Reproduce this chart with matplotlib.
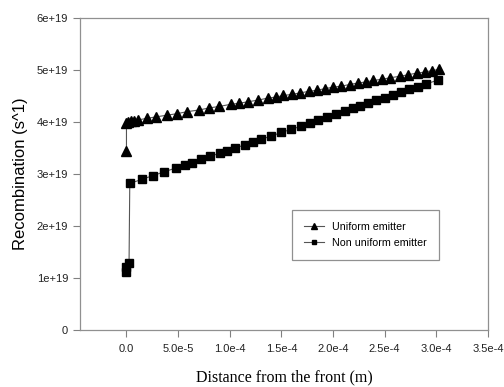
import matplotlib
matplotlib.use('Agg')
import matplotlib.pyplot as plt

# Distance from the front, in units of 1e-5 m
x_uniform = [0, 0, 0.15, 0.4, 0.7, 1.1, 2.0, 2.9, 3.9, 4.9, 5.9, 7.0, 8.0, 9.0,
             10.1, 10.9, 11.8, 12.7, 13.7, 14.5, 15.2, 16.0, 16.8, 17.7, 18.4,
             19.2, 20.0, 20.8, 21.6, 22.4, 23.2, 23.9, 24.7, 25.5, 26.5, 27.3,
             28.1, 28.9, 29.6, 30.3]
# Recombination, in units of 1e19 s^-1
y_uniform = [3.45, 3.99, 4.00, 4.01, 4.02, 4.04, 4.07, 4.10, 4.13, 4.16, 4.20,
             4.23, 4.27, 4.30, 4.34, 4.36, 4.39, 4.42, 4.46, 4.48, 4.51, 4.53,
             4.56, 4.59, 4.61, 4.64, 4.67, 4.69, 4.72, 4.75, 4.77, 4.80, 4.82,
             4.85, 4.88, 4.91, 4.94, 4.96, 4.99, 5.01]

x_nonuniform = [0, 0, 0.25, 0.32, 1.55, 2.57, 3.64, 4.84, 5.64, 6.39, 7.26, 8.13,
                9.03, 9.74, 10.55, 11.45, 12.25, 13.07, 14.04, 15.0, 15.97,
                16.94, 17.74, 18.55, 19.42, 20.33, 21.13, 21.94, 22.58, 23.39,
                24.2, 25.0, 25.8, 26.6, 27.4, 28.2, 29.0, 30.2]
y_nonuniform = [1.12, 1.22, 1.28, 2.82, 2.90, 2.97, 3.04, 3.12, 3.17, 3.22, 3.28,
                3.34, 3.40, 3.45, 3.50, 3.56, 3.61, 3.67, 3.73, 3.80, 3.86, 3.92,
                3.99, 4.04, 4.10, 4.16, 4.21, 4.27, 4.31, 4.36, 4.42, 4.47, 4.52,
                4.58, 4.63, 4.68, 4.73, 4.81]

x_ticks = [0, 5e-5, 1e-4, 1.5e-4, 2e-4, 2.5e-4, 3e-4, 3.5e-4]
x_labels = ['0.0', '5.0e-5', '1.0e-4', '1.5e-4', '2.0e-4', '2.5e-4', '3.0e-4', '3.5e-4']
y_ticks = [0, 1e19, 2e19, 3e19, 4e19, 5e19, 6e19]
y_labels = ['0', '1e+19', '2e+19', '3e+19', '4e+19', '5e+19', '6e+19']

plt.rcParams['font.family'] = ['Liberation Sans', 'DejaVu Sans']

fig = plt.figure(figsize=(5.04, 3.87), dpi=100)
ax = fig.add_axes([0.1587, 0.1473, 0.8095, 0.8062])

ax.plot([v * 1e-5 for v in x_uniform], [v * 1e19 for v in y_uniform],
        color='#555555', linewidth=0.8, marker='^', markersize=6.5,
        markerfacecolor='black', markeredgecolor='black', label='Uniform emitter')
ax.plot([v * 1e-5 for v in x_nonuniform], [v * 1e19 for v in y_nonuniform],
        color='#555555', linewidth=0.8, marker='s', markersize=5.5,
        markerfacecolor='black', markeredgecolor='black', label='Non uniform emitter')

ax.set_xlim(-4.5e-5, 3.5e-4)
ax.set_ylim(0, 6e19)
ax.set_xticks(x_ticks)
ax.set_xticklabels(x_labels)
ax.set_yticks(y_ticks)
ax.set_yticklabels(y_labels)
ax.tick_params(direction='out', length=5, width=0.8, color='#808080',
               labelsize=8, labelcolor='#222222', top=False, right=False)
ax.tick_params(axis='x', pad=5)

for s in ax.spines.values():
    s.set_color('#909090')
    s.set_linewidth(0.9)

ax.set_ylabel('Recombination (s^1)', fontsize=12, labelpad=6)
ax.set_xlabel('Distance from the front (m)', fontsize=11.5,
              family=['Liberation Serif', 'DejaVu Serif'], labelpad=11)

leg = ax.legend(loc='upper left', bbox_to_anchor=(0.519, 0.385), fontsize=7.7,
                fancybox=False, framealpha=1, edgecolor='#909090',
                markerscale=0.6, handlelength=1.9, handletextpad=0.7,
                borderpad=1.15, labelspacing=0.5, borderaxespad=0)
leg.get_frame().set_linewidth(0.9)

fig.savefig('out.png', dpi=100)
